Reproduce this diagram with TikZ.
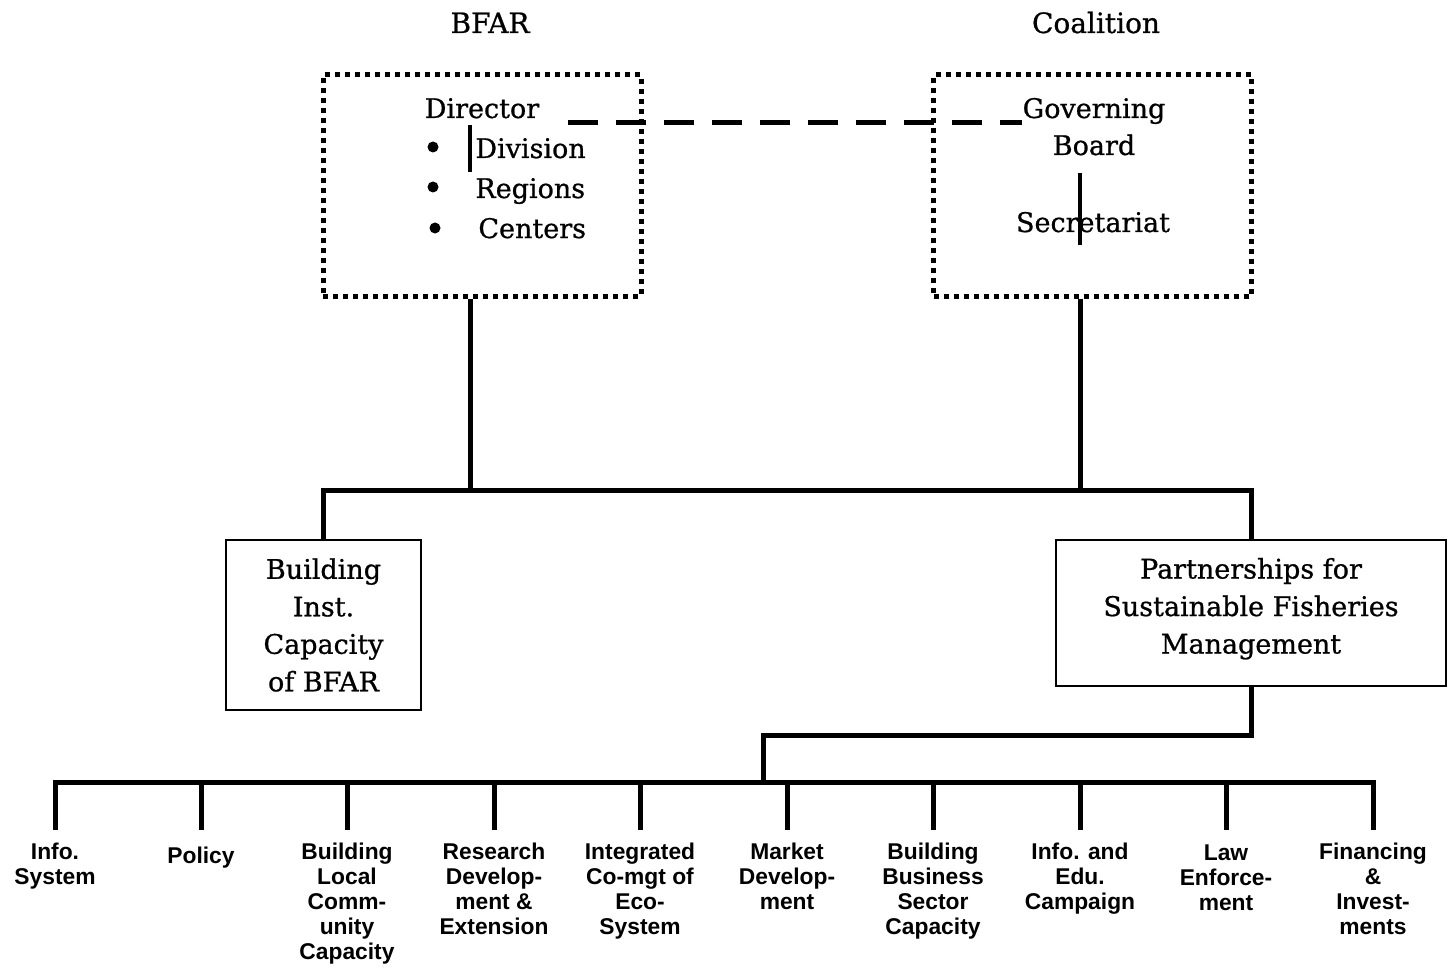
\documentclass[tikz,border=0pt]{standalone}
\usepackage{fontspec}
\setmainfont{DejaVu Serif}
\newfontfamily\heavyserif[FakeBold=0.8]{DejaVu Serif}
\newfontfamily\arialb{Liberation Sans}
\begin{document}
\begin{tikzpicture}[x=0.5pt,y=-0.5pt,
 line/.style={line width=2.5pt, line join=miter},
 dotbox/.style={draw, line width=2.5pt, dash pattern=on 2.5pt off 2.5pt, minimum width=159pt, minimum height=110.5pt, inner sep=0},
 serif/.style={font=\heavyserif\fontsize{13.5}{18}\selectfont, inner sep=0, anchor=base},
 titletext/.style={font=\heavyserif\fontsize{14}{18}\selectfont, inner sep=0, anchor=base},
 solidbox/.style={draw, line width=0.8pt, inner sep=0, align=center, font=\heavyserif\fontsize{13.5}{18.75}\selectfont},
 bullet/.style={circle, fill, inner sep=0, minimum size=5.5pt},
 leaf/.style={font=\arialb\bfseries\fontsize{11.4}{12.5}\selectfont, align=center, anchor=north, inner sep=0},
 bar/.style={line width=2pt}
]
\useasboundingbox (0,0) rectangle (1449,973);
% titles
\node[titletext] (tbfar) at (490,33) {BFAR};
\node[titletext] (tcoal) at (1096,33) {Coalition};
% dotted boxes
\node[dotbox] (bfarbox) at (482,185.5) {};
\node[dotbox] (coalbox) at (1092.5,185.5) {};
% BFAR box content
\node[serif] (dir) at (482,118) {Director};
\node[serif, anchor=base west] (div) at (475,158) {Division};
\node[serif, anchor=base west] (reg) at (475,198) {Regions};
\node[serif, anchor=base west] (cen) at (478,238) {Centers};
\node[bullet] (b1) at (433,147) {};
\node[bullet] (b2) at (433,187) {};
\node[bullet] (b3) at (435,228) {};
\coordinate (v1a) at (470,125);
\coordinate (v1b) at (470,172);
\draw[bar] (v1a) -- (v1b);
% Coalition box content
\node[serif] (gov) at (1094,118) {Governing};
\node[serif] (board) at (1094,155) {Board};
\node[serif] (sec) at (1093,232) {Secretariat};
\coordinate (v2a) at (1080,173);
\coordinate (v2b) at (1080,245);
\draw[bar] (v2a) -- (v2b);
% dashed link
\coordinate (d1) at (568,123);
\draw[line, dash pattern=on 15pt off 9pt] (d1) -- (gov.west |- d1);
% middle boxes
\node[solidbox, minimum width=97.5pt, minimum height=85pt] (bica) at (323.5,625) {Building\\Inst.\\Capacity\\of BFAR};
\node[solidbox, minimum width=195pt, minimum height=73pt] (psfm) at (1251,613) {Partnerships for\\Sustainable Fisheries\\Management\\[-11.5pt]\mbox{}};
% upper tree
\coordinate (j1) at (470,490);
\coordinate (j2) at (1080,490);
\coordinate (h1) at (323.5,490);
\coordinate (h2) at (1251,490);
\draw[line] (bfarbox.south -| j1) -- (j1);
\draw[line] (coalbox.south -| j2) -- (j2);
\draw[line] (bica.north) -- (h1) -- (h2) -- (psfm.north);
% leaves
\node[leaf] (l1) at (55,843) {Info.\\System};
\node[leaf] (l2) at (201,847) {Policy};
\node[leaf] (l3) at (347,843) {Building\\Local\\Comm-\\unity\\Capacity};
\node[leaf] (l4) at (494,843) {Research\\Develop-\\ment \&\\Extension};
\node[leaf] (l5) at (640,843) {Integrated\\Co-mgt of\\Eco-\\System};
\node[leaf] (l6) at (787,843) {Market\\Develop-\\ment};
\node[leaf] (l7) at (933,843) {Building\\Business\\Sector\\Capacity};
\node[leaf] (l8) at (1080,843) {Info. and\\Edu.\\Campaign};
\node[leaf] (l9) at (1226,844) {Law\\Enforce-\\ment};
\node[leaf] (l10) at (1373,843) {Financing\\\&\\Invest-\\ments};
% lower tree
\coordinate (k1) at (763,735);
\coordinate (k2) at (763,782);
\coordinate (bus) at (0,782);
\draw[line] (psfm.south) |- (k1) -- (k2);
\draw[line] ([yshift=6.5pt]l1.north) -- (l1.north |- bus) -- (l10.north |- bus) -- ([yshift=6.5pt]l10.north);
\foreach \n in {2,...,9} {
  \draw[line] (l\n.north |- bus) -- ([yshift=6.5pt]l\n.north |- 0,843);
}
\end{tikzpicture}
\end{document}
